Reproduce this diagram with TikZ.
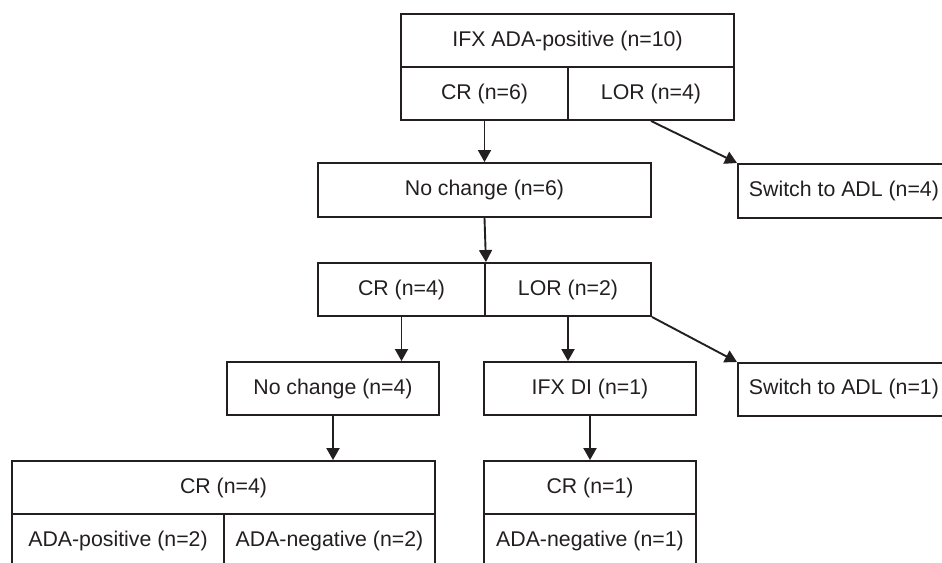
\documentclass[tikz,border=0pt]{standalone}
\usepackage{fontspec}
\setmainfont{Liberation Sans}
\usetikzlibrary{arrows.meta}
\definecolor{ink}{HTML}{231F20}
\tikzset{
  cell/.style={draw=ink, line width=1.9pt, inner sep=0pt, minimum height=53pt, text=ink,
    font=\fontsize{21.3}{25}\selectfont},
  link/.style={draw=ink, line width=1.9pt, -{Triangle[width=13pt,length=12pt]}},
  plain/.style={draw=ink, line width=1.9pt}
}
\begin{document}
\begin{tikzpicture}[x=1pt,y=-1pt]
\useasboundingbox (0,0) rectangle (942,562);
\clip (0,0) rectangle (942,562);
% top split box
\node[cell, minimum width=333pt] (ifx) at (567.5,40.5) {IFX ADA-positive (n=10)};
\node[cell, minimum width=167pt] (cr6) at (484.5,93.5) {CR (n=6)};
\node[cell, minimum width=166pt] (lor4) at (651,93.5) {LOR (n=4)};
% level 2
\node[cell, minimum width=333pt, minimum height=54pt] (nc6) at (484.5,190) {No change (n=6)};
\node[cell, minimum width=212pt, minimum height=54pt, anchor=north west] (sw4) at (737,163) {Switch to ADL (n=4)};
% level 3 split box
\node[cell, minimum width=167pt] (cr4) at (401.5,289.5) {CR (n=4)};
\node[cell, minimum width=166pt] (lor2) at (568,289.5) {LOR (n=2)};
% level 4
\node[cell, minimum width=212pt] (nc4) at (333,388.5) {No change (n=4)};
\node[cell, minimum width=212pt] (di) at (590,388.5) {IFX DI (n=1)};
\node[cell, minimum width=212pt, anchor=north west] (sw1) at (737,362) {Switch to ADL (n=1)};
% bottom left split box
\node[cell, minimum width=423pt] (crb) at (223.5,487.5) {CR (n=4)};
\node[cell, minimum width=212pt] (adap) at (118,540.5) {ADA-positive (n=2)};
\node[cell, minimum width=211pt] (adan) at (329.5,540.5) {ADA-negative (n=2)};
% bottom right split box
\node[cell, minimum width=212pt] (cr1) at (590,487.5) {CR (n=1)};
\node[cell, minimum width=212pt] (adan1) at (590,540.5) {ADA-negative (n=1)};
% connectors
\draw[link] (cr6.south) -- (nc6.north);
\draw[link] (lor4.south) -- (sw4.north west);
\draw[link] (nc6.south) -- (cr4.north east);
\draw[link] (cr4.south) -- (cr4.south |- nc4.north);
\draw[link] (lor2.south) -- (lor2.south |- di.north);
\draw[link] (lor2.south east) -- (sw1.north west);
\draw[link] (nc4.south) -- (nc4.south |- crb.north);
\draw[link] (di.south) -- (cr1.north);
\end{tikzpicture}
\end{document}
